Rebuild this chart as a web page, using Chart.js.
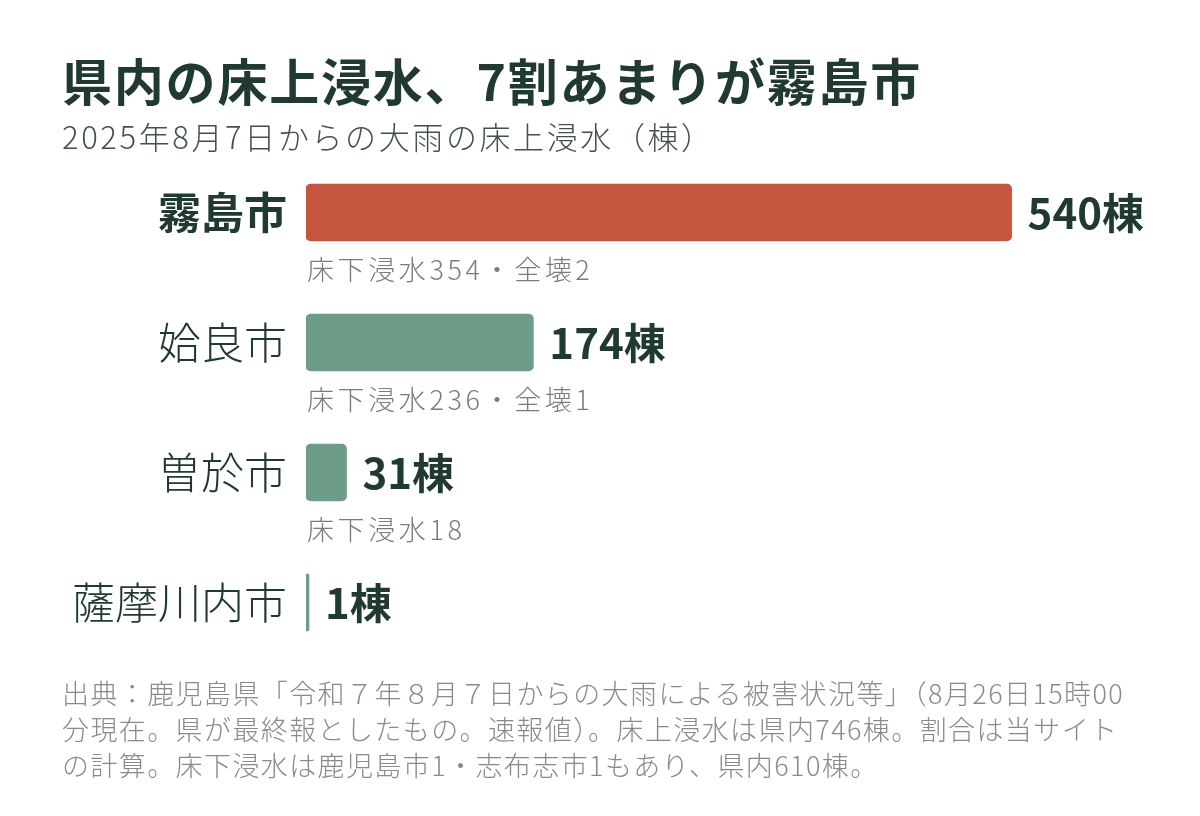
<!DOCTYPE html>
<html lang="ja">
<head>
<meta charset="utf-8">
<script src="https://cdn.jsdelivr.net/npm/chart.js@4.4.1/dist/chart.umd.min.js"></script>
<style>
  html, body { margin:0; padding:0; background:#fff; }
  body { width:1200px; height:816px; position:relative; overflow:hidden; font-family:"Noto Sans CJK JP","Noto Sans",sans-serif; }
  #c { position:absolute; left:0; top:0; }
  .title { position:absolute; left:62px; top:54px; font-size:50px; line-height:50px; font-weight:700; color:#213a30; white-space:nowrap; letter-spacing:1.8px; }
  .sub { position:absolute; left:62px; top:119px; font-size:31px; line-height:34px; font-weight:300; color:#44504a; white-space:nowrap; letter-spacing:2.6px; }
  .note { position:absolute; left:62px; top:675px; font-size:27px; line-height:36px; color:#8a8a8a; white-space:nowrap; font-weight:300; letter-spacing:1.4px; }
</style>
</head>
<body>
<canvas id="c" width="1200" height="816"></canvas>
<div class="title">県内の床上浸水、7割あまりが霧島市</div>
<div class="sub">2025年8月7日からの大雨の床上浸水（棟）</div>
<div class="note">出典：鹿児島県「令和７年８月７日からの大雨による被害状況等」（8月26日15時00<br>分現在。県が最終報としたもの。速報値）。床上浸水は県内746棟。割合は当サイト<br>の計算。床下浸水は鹿児島市1・志布志市1もあり、県内610棟。</div>
<script>
const cities = ["霧島市", "姶良市", "曽於市", "薩摩川内市"];
const floodAbove = [540, 174, 31, 1];
const floodBelow = [354, 236, 18, null];
const destroyed = [2, 1, null, null];
const unit = "棟";

const DARK = "#213a30";
const barColors = cities.map((c, i) => i === 0 ? "#c5553f" : "#6d9d86");
const FONT = '"Noto Sans CJK JP","Noto Sans",sans-serif';

const labelPlugin = {
  id: "labels",
  afterDatasetsDraw(chart) {
    const ctx = chart.ctx;
    const meta = chart.getDatasetMeta(0);
    const left = chart.chartArea.left;
    ctx.save();
    meta.data.forEach((el, i) => {
      ctx.textBaseline = "middle";
      ctx.textAlign = "left";
      ctx.fillStyle = DARK;
      ctx.letterSpacing = "0px";
      ctx.font = "bold 42px " + FONT;
      ctx.fillText(floodAbove[i] + unit, el.x + 16, el.y + 1);
      let s = "";
      if (floodBelow[i] != null) s += "床下浸水" + floodBelow[i];
      if (destroyed[i] != null) s += "・全壊" + destroyed[i];
      if (s) {
        ctx.font = "300 27px " + FONT;
        ctx.letterSpacing = "3.6px";
        ctx.fillStyle = "#7b7b7b";
        ctx.fillText(s, left + 1, el.y + 57.5);
      }
    });
    ctx.restore();
  }
};

new Chart(document.getElementById("c"), {
  type: "bar",
  data: {
    labels: cities,
    datasets: [{
      data: floodAbove,
      backgroundColor: barColors,
      borderRadius: 5,
      borderSkipped: false,
      barThickness: 57,
      minBarLength: 3
    }]
  },
  options: {
    indexAxis: "y",
    responsive: false,
    animation: false,
    events: [],
    layout: { padding: { left: 0, right: 110, top: 147.5, bottom: 148.5 } },
    plugins: { legend: { display: false }, tooltip: { enabled: false } },
    scales: {
      x: { display: false, min: 0, max: 600 },
      y: {
        grid: { display: false, drawTicks: false },
        border: { display: false },
        ticks: {
          padding: 19,
          color: DARK,
          font: (c) => ({ family: FONT, size: 43, weight: c.index === 0 ? "bold" : "300" })
        },
        afterFit(scale) { scale.width = 306; }
      }
    }
  },
  plugins: [labelPlugin]
});
</script>
</body>
</html>
